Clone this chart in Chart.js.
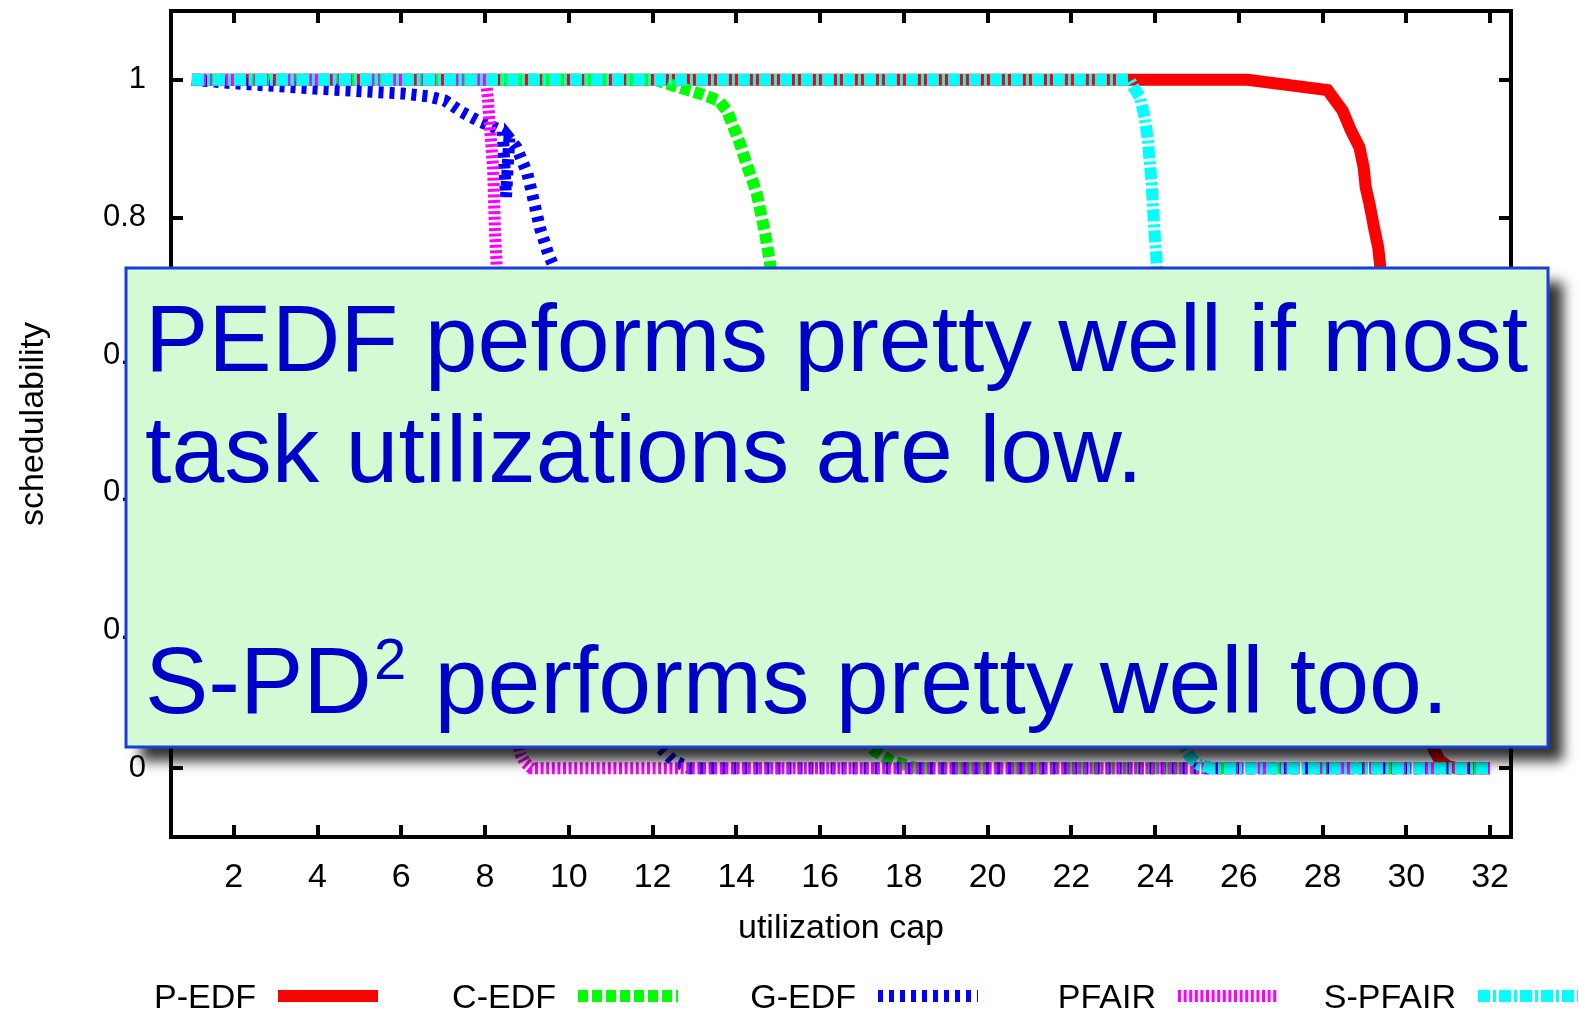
<!DOCTYPE html>
<html>
<head>
<meta charset="utf-8">
<script src="https://cdn.jsdelivr.net/npm/chart.js@4.4.1/dist/chart.umd.min.js"></script>
<style>
  html, body { margin: 0; padding: 0; background: #ffffff; }
  #wrap { width: 1579px; height: 1011px; position: relative; }
</style>
</head>
<body>
<div id="wrap"><canvas id="c" width="1579" height="1011"></canvas></div>
<script>
// Axis ticks
const xTickValues = [2, 4, 6, 8, 10, 12, 14, 16, 18, 20, 22, 24, 26, 28, 30, 32];
const yTickValues = [0, 0.2, 0.4, 0.6, 0.8, 1];

// Series: schedulability vs. utilization cap
const seriesNames = ['P-EDF', 'C-EDF', 'G-EDF', 'PFAIR', 'S-PFAIR'];

const pedfX = [1, 26.21, 28.12, 28.48, 28.68, 28.88, 28.98, 29.03, 29.13, 29.23, 29.33, 29.38, 29.53, 29.68, 29.83, 29.98, 30.14, 30.29, 30.44, 30.64, 30.79, 30.99, 31.19, 32];
const pedfY = [1, 1, 0.985, 0.955, 0.926, 0.902, 0.873, 0.844, 0.817, 0.785, 0.756, 0.727, 0.63, 0.52, 0.41, 0.3, 0.2, 0.12, 0.065, 0.029, 0.012, 0.003, 0, 0];

const cedfX = [1, 12.07, 12.68, 13.13, 13.58, 13.78, 13.94, 14.09, 14.24, 14.39, 14.49, 14.59, 14.69, 14.79, 14.99, 15.19, 15.5, 15.8, 16.1, 16.5, 16.9, 17.31, 17.71, 18.31, 32];
const cedfY = [1, 1, 0.988, 0.98, 0.97, 0.955, 0.93, 0.907, 0.878, 0.853, 0.834, 0.805, 0.776, 0.74, 0.65, 0.55, 0.41, 0.28, 0.18, 0.1, 0.05, 0.025, 0.01, 0, 0];

const gedfX = [1, 2.01, 4.02, 6.04, 6.64, 7.04, 7.45, 7.85, 8.05, 8.25, 8.42, 8.5, 8.58, 8.75, 9.01, 9.16, 9.31, 9.51, 9.61, 9.86, 10.16, 10.46, 10.77, 11.07, 11.47, 11.87, 12.18, 12.48, 12.88, 32];
const gedfY = [1, 0.995, 0.987, 0.98, 0.976, 0.97, 0.953, 0.94, 0.935, 0.93, 0.925, 0.83, 0.915, 0.902, 0.864, 0.825, 0.785, 0.747, 0.733, 0.64, 0.52, 0.4, 0.29, 0.2, 0.11, 0.055, 0.03, 0.012, 0, 0];

const pfairX = [1, 8.02, 8.07, 8.13, 8.19, 8.24, 8.28, 8.35, 8.45, 8.55, 8.65, 8.75, 8.85, 8.96, 9.11, 32];
const pfairY = [1, 1, 0.97, 0.92, 0.873, 0.776, 0.727, 0.6, 0.4, 0.22, 0.1, 0.045, 0.02, 0.008, 0, 0];

const spfairX = [1, 23.39, 23.51, 23.64, 23.75, 23.83, 23.87, 23.92, 23.95, 23.99, 24.04, 24.15, 24.25, 24.35, 24.45, 24.55, 24.65, 24.85, 25.05, 25.36, 32];
const spfairY = [1, 1, 0.987, 0.975, 0.946, 0.912, 0.882, 0.849, 0.814, 0.776, 0.733, 0.6, 0.45, 0.3, 0.17, 0.08, 0.035, 0.015, 0.005, 0, 0];

const seriesX = [pedfX, cedfX, gedfX, pfairX, spfairX];
const seriesY = [pedfY, cedfY, gedfY, pfairY, spfairY];
const seriesColors = ['#ff0000', '#00ff00', '#0000ff', '#ff00ff', '#00ffff'];
const seriesDashes = [[], [10, 4], [5, 6], [3, 2.6], [12, 3, 3, 3]];

// Callout text
const noteLines = ['PEDF peforms pretty well if most', 'task utilizations are low.'];
const noteLast = ['S-PD', '2', ' performs pretty well too.'];

const FONT = "'Liberation Sans', Arial, Helvetica, sans-serif";

const datasets = seriesNames.map((name, i) => ({
  label: name,
  data: seriesX[i].map((x, k) => ({ x: x, y: seriesY[i][k] })),
  borderColor: seriesColors[i],
  backgroundColor: seriesColors[i],
  borderWidth: 12,
  borderDash: seriesDashes[i],
  borderCapStyle: 'butt',
  borderJoinStyle: 'miter',
  pointRadius: 0,
  tension: 0,
  fill: false,
  order: seriesNames.length - i
}));

// Border box and inward tick marks on all four sides
const framePlugin = {
  id: 'frame',
  afterDatasetsDraw(chart) {
    const { ctx, chartArea: a, scales } = chart;
    ctx.save();
    ctx.strokeStyle = '#000';
    ctx.lineWidth = 4;
    ctx.lineCap = 'butt';
    ctx.beginPath();
    scales.x.ticks.forEach(t => {
      const px = Math.round(scales.x.getPixelForValue(t.value));
      ctx.moveTo(px, a.bottom); ctx.lineTo(px, a.bottom - 12);
      ctx.moveTo(px, a.top); ctx.lineTo(px, a.top + 12);
    });
    scales.y.ticks.forEach(t => {
      const py = Math.round(scales.y.getPixelForValue(t.value));
      ctx.moveTo(a.left, py); ctx.lineTo(a.left + 12, py);
      ctx.moveTo(a.right, py); ctx.lineTo(a.right - 12, py);
    });
    ctx.stroke();
    ctx.strokeRect(a.left, a.top, a.right - a.left, a.bottom - a.top);
    ctx.restore();
  }
};

// Key below the plot: name, then a line sample
const keyPlugin = {
  id: 'key',
  afterDraw(chart, args, opts) {
    const ctx = chart.ctx;
    ctx.save();
    ctx.font = opts.size + 'px ' + FONT;
    ctx.textAlign = 'right';
    ctx.textBaseline = 'alphabetic';
    chart.data.datasets.forEach((ds, i) => {
      const sx = opts.start + i * opts.step;
      ctx.fillStyle = '#000';
      ctx.fillText(ds.label, sx - opts.gap, opts.textY);
      ctx.strokeStyle = ds.borderColor;
      ctx.lineWidth = ds.borderWidth;
      ctx.lineCap = 'butt';
      ctx.setLineDash(ds.borderDash);
      ctx.beginPath();
      ctx.moveTo(sx, opts.lineY);
      ctx.lineTo(sx + opts.len, opts.lineY);
      ctx.stroke();
      ctx.setLineDash([]);
    });
    ctx.restore();
  }
};

// Shadowed callout box
const notePlugin = {
  id: 'note',
  afterDraw(chart, args, o) {
    const ctx = chart.ctx;
    ctx.save();
    ctx.shadowColor = 'rgba(0,0,0,0.8)';
    ctx.shadowBlur = 12;
    ctx.shadowOffsetX = 15;
    ctx.shadowOffsetY = 14;
    ctx.fillStyle = '#d4fad4';
    ctx.fillRect(o.x, o.y, o.w, o.h);
    ctx.restore();
    ctx.save();
    ctx.strokeStyle = '#1a3fd8';
    ctx.lineWidth = 3;
    ctx.strokeRect(o.x, o.y, o.w, o.h);
    ctx.fillStyle = '#0000c8';
    ctx.textAlign = 'left';
    ctx.textBaseline = 'alphabetic';
    ctx.font = o.size + 'px ' + FONT;
    noteLines.forEach((line, i) => ctx.fillText(line, o.textX, o.baselines[i]));
    let x = o.textX;
    const yb = o.baselines[2];
    ctx.fillText(noteLast[0], x, yb);
    x += ctx.measureText(noteLast[0]).width;
    ctx.font = o.supSize + 'px ' + FONT;
    ctx.fillText(noteLast[1], x + 2, yb - o.supRaise);
    x += ctx.measureText(noteLast[1]).width + 4;
    ctx.font = o.size + 'px ' + FONT;
    ctx.fillText(noteLast[2], x, yb);
    ctx.restore();
  }
};

new Chart(document.getElementById('c'), {
  type: 'line',
  data: { datasets: datasets },
  options: {
    responsive: false,
    animation: false,
    devicePixelRatio: 1,
    layout: { padding: { top: 11, right: 68, left: 0, bottom: 0 } },
    plugins: {
      legend: { display: false },
      tooltip: { enabled: false },
      key: { start: 278, step: 300, gap: 22, len: 100, lineY: 996, textY: 1008, size: 34 },
      note: { x: 126, y: 268, w: 1422, h: 479, textX: 145, size: 95, supSize: 58, supRaise: 34, baselines: [371, 482, 713] }
    },
    scales: {
      x: {
        type: 'linear',
        min: 0.5,
        max: 32.5,
        afterBuildTicks: s => { s.ticks = xTickValues.map(v => ({ value: v })); },
        afterFit: s => { s.height = 174; s.paddingLeft = 0; s.paddingRight = 0; },
        grid: { display: false, drawTicks: false },
        border: { display: false },
        ticks: { color: '#000', font: { family: FONT, size: 34 }, padding: 20, maxRotation: 0, autoSkip: false },
        title: { display: true, text: 'utilization cap', color: '#000', font: { family: FONT, size: 34 }, padding: { bottom: 62 } }
      },
      y: {
        type: 'linear',
        min: -0.1,
        max: 1.1,
        afterBuildTicks: s => { s.ticks = yTickValues.map(v => ({ value: v })); },
        afterFit: s => { s.width = 171; s.paddingTop = 0; s.paddingBottom = 0; },
        grid: { display: false, drawTicks: false },
        border: { display: false },
        ticks: { color: '#000', font: { family: FONT, size: 31 }, padding: 25, callback: v => String(Math.round(v * 10) / 10) },
        title: { display: true, text: 'schedulability', color: '#000', font: { family: FONT, size: 34 }, padding: { top: 13 } }
      }
    }
  },
  plugins: [framePlugin, keyPlugin, notePlugin]
});
</script>
</body>
</html>
